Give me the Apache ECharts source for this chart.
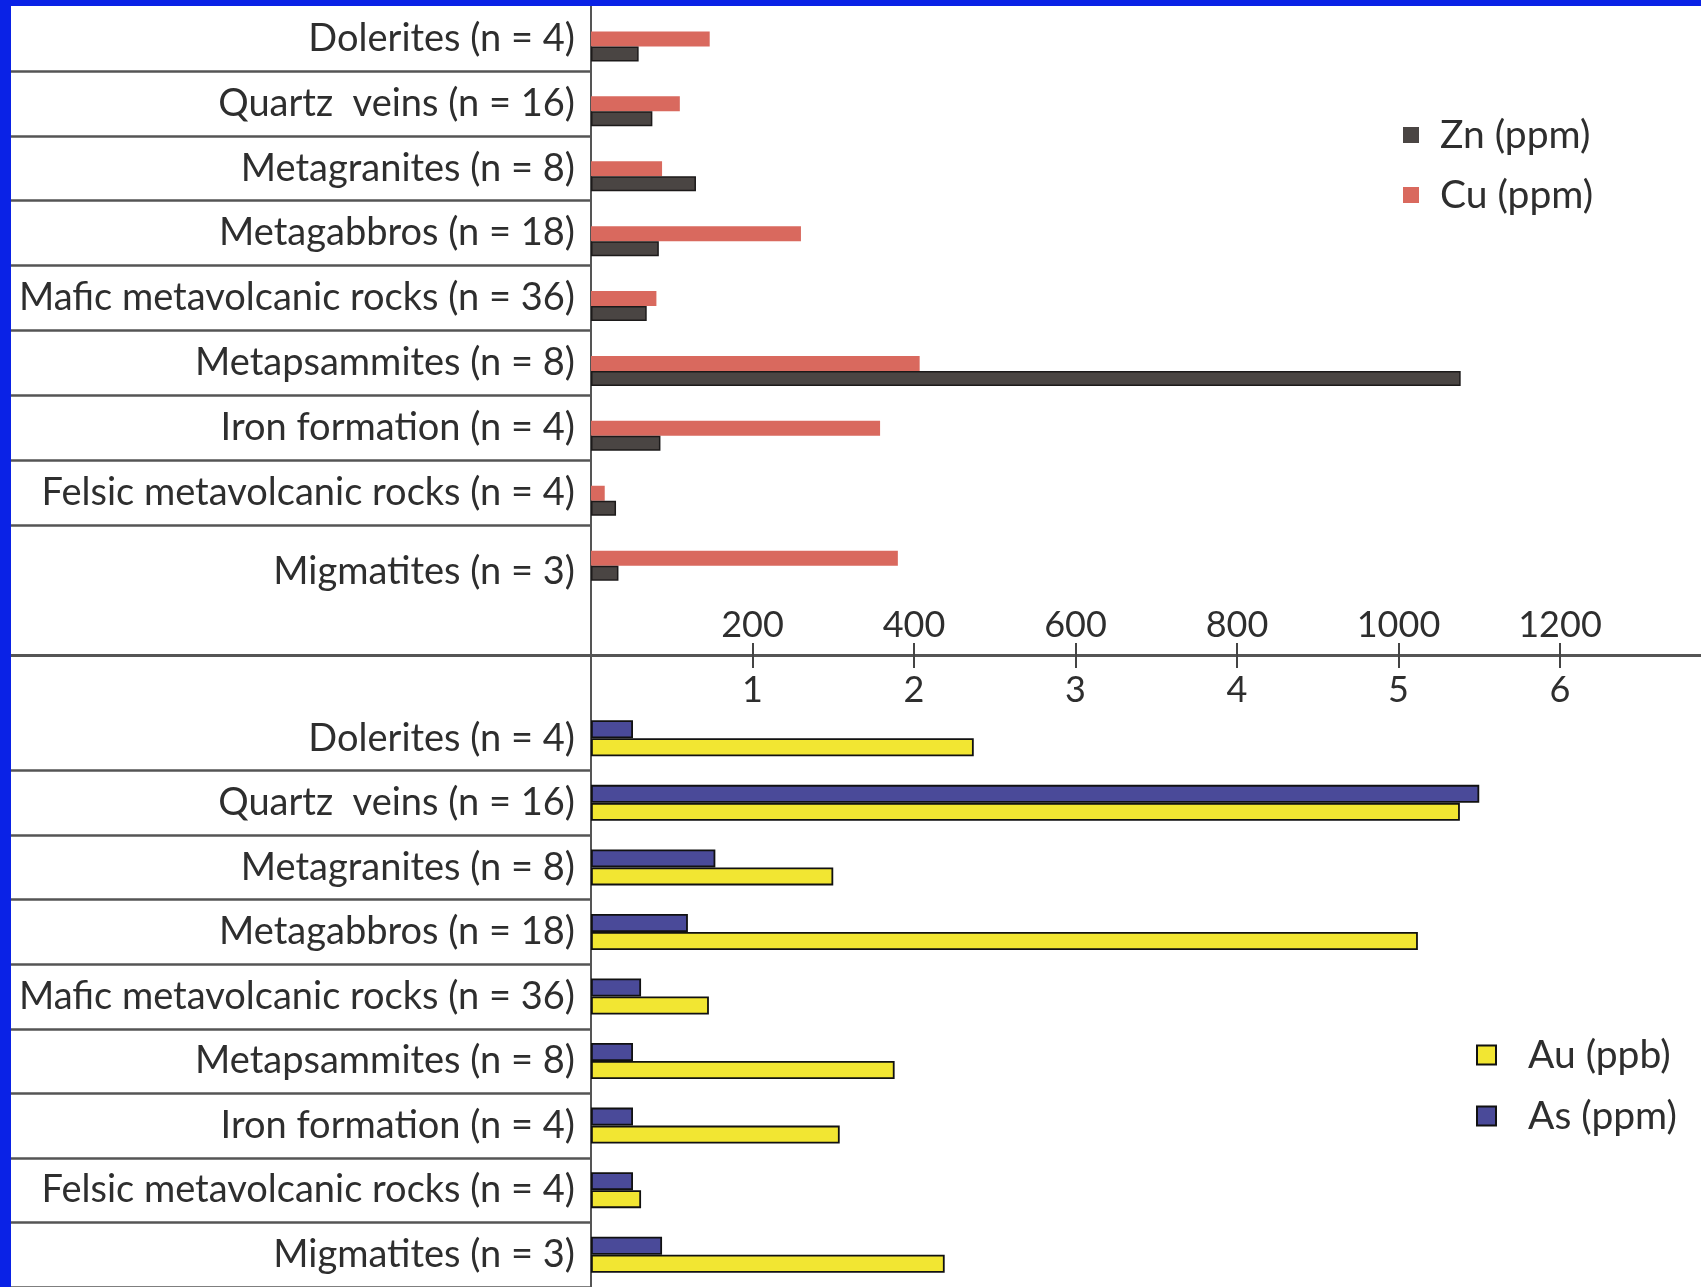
<!DOCTYPE html>
<html>
<head>
<meta charset="utf-8">
<script src="https://cdn.jsdelivr.net/npm/echarts@6/dist/echarts.min.js"></script>
<style>
  html, body { margin: 0; padding: 0; width: 1701px; height: 1287px; overflow: hidden; background: #0a22e6; }
  #chart { position: absolute; left: 11px; top: 6px; width: 1690px; height: 1281px; background: #ffffff; }
</style>
</head>
<body>
<div id="chart"></div>
<script>
// ---------- data ----------
const categories = [
  'Dolerites (n = 4)',
  'Quartz  veins (n = 16)',
  'Metagranites (n = 8)',
  'Metagabbros (n = 18)',
  'Mafic metavolcanic rocks (n = 36)',
  'Metapsammites (n = 8)',
  'Iron formation (n = 4)',
  'Felsic metavolcanic rocks (n = 4)',
  'Migmatites (n = 3)'
];
const znPpm = [59, 76, 130, 84, 69, 1077, 86, 31, 34];
const cuPpm = [147, 110, 88, 260, 81, 407, 358, 17, 380];
const asPpm = [0.26, 5.50, 0.77, 0.60, 0.31, 0.26, 0.26, 0.26, 0.44];
const auPpb = [2.37, 5.38, 1.50, 5.12, 0.73, 1.88, 1.54, 0.31, 2.19];
const topTicks = [200, 400, 600, 800, 1000, 1200];
const bottomTicks = [1, 2, 3, 4, 5, 6];

// ---------- layout ----------
const W = 1690, H = 1281;
const AXIS_X = 580;          // vertical axis position
const DIV_Y = 649;           // horizontal divider
const PX_PER_UNIT = 161.5 / 200;
const TOP_MAX = (W - AXIS_X) / PX_PER_UNIT;
const BOT_MAX = TOP_MAX / 200;
const TOP_BAND = DIV_Y / 10;
const BOT_BAND = 65.1;
const BOT_TOP = 700;

const FONT = 'Lato';
const TXT = '#2e2e2e';
const LINE = '#555555';

const chart = echarts.init(document.getElementById('chart'), null, { renderer: 'canvas' });

const lastCat = categories[categories.length - 1];

const option = {
  animation: false,
  backgroundColor: '#ffffff',
  textStyle: { fontFamily: FONT },
  grid: [
    { left: 0, top: 0, width: W, height: H },                                   // frame
    { left: AXIS_X, top: 0, width: W - AXIS_X, height: DIV_Y },                  // top labels
    { left: AXIS_X, top: 8, width: W - AXIS_X, height: TOP_BAND * 9 },           // top bars
    { left: AXIS_X, top: BOT_TOP, width: W - AXIS_X, height: BOT_BAND * 9 }      // bottom
  ],
  xAxis: [
    { gridIndex: 0, type: 'value', min: -AXIS_X, max: W - AXIS_X,
      axisLine: { show: true, onZero: true, lineStyle: { color: LINE, width: 3 } },
      axisTick: { show: false }, axisLabel: { show: false }, splitLine: { show: false } },
    { gridIndex: 1, type: 'value', min: 0, max: TOP_MAX, interval: 200, position: 'bottom',
      axisLine: { show: false },
      axisTick: { show: true, inside: true, length: 12, customValues: topTicks,
                  lineStyle: { color: '#444', width: 2 } },
      axisLabel: { show: true, inside: true, margin: 12, customValues: topTicks,
                   formatter: (v) => String(v),
                   fontSize: 36, fontFamily: FONT, color: TXT },
      splitLine: { show: false } },
    { gridIndex: 2, type: 'value', min: 0, max: TOP_MAX, show: false },
    { gridIndex: 3, type: 'value', min: 0, max: BOT_MAX, interval: 1, position: 'top',
      offset: BOT_TOP - DIV_Y,
      axisLine: { show: false },
      axisTick: { show: true, inside: true, length: 13, customValues: bottomTicks,
                  lineStyle: { color: '#444', width: 2 } },
      axisLabel: { show: true, inside: true, margin: 17, customValues: bottomTicks,
                   formatter: (v) => String(v),
                   fontSize: 36, fontFamily: FONT, color: TXT },
      splitLine: { show: false } }
  ],
  yAxis: [
    { gridIndex: 0, type: 'value', min: -(H - DIV_Y), max: DIV_Y,
      axisLine: { show: true, onZero: true, lineStyle: { color: LINE, width: 2 } },
      axisTick: { show: false }, axisLabel: { show: false }, splitLine: { show: false } },
    { gridIndex: 1, type: 'category', inverse: true, data: categories, max: 9,
      axisLine: { show: false },
      axisTick: { show: true, length: AXIS_X, interval: (i) => i >= 1 && i <= 8,
                  lineStyle: { color: LINE, width: 2.5 } },
      axisLabel: { show: true, interval: 0, margin: 16, fontSize: 38, fontFamily: FONT, color: TXT,
                   formatter: (v) => (v == null || v === 'undefined') ? '' :
                     (v === lastCat ? '{low|' + v + '}' : v),
                   rich: { low: { fontSize: 38, fontFamily: FONT, color: TXT, padding: [28, 0, 0, 0] } } },
      splitLine: { show: false } },
    { gridIndex: 2, type: 'category', inverse: true, data: categories, show: false },
    { gridIndex: 3, type: 'category', inverse: true, data: categories,
      axisLine: { show: false },
      axisTick: { show: true, length: AXIS_X, interval: (i) => i >= 1,
                  lineStyle: { color: LINE, width: 2.5 } },
      axisLabel: { show: true, interval: 0, margin: 16, fontSize: 38, fontFamily: FONT, color: TXT },
      splitLine: { show: false } }
  ],
  legend: [
    { data: ['Zn (ppm)', 'Cu (ppm)'], orient: 'vertical', left: 1387, top: 102,
      icon: 'rect', itemWidth: 16, itemHeight: 16, itemGap: 16,
      itemStyle: { borderWidth: 0 },
      textStyle: { fontSize: 39, fontFamily: FONT, color: TXT, lineHeight: 44, padding: [0, 0, 0, 16] } },
    { data: ['Au (ppb)', 'As (ppm)'], orient: 'vertical', left: 1460, top: 1022,
      icon: 'rect', itemWidth: 19, itemHeight: 19, itemGap: 17,
      textStyle: { fontSize: 39, fontFamily: FONT, color: TXT, lineHeight: 44, padding: [0, 0, 0, 27] } }
  ],
  series: [
    { name: 'Cu (ppm)', type: 'bar', xAxisIndex: 2, yAxisIndex: 2, data: cuPpm,
      barWidth: 15, barGap: '0%',
      itemStyle: { color: '#d9695e', borderWidth: 0 } },
    { name: 'Zn (ppm)', type: 'bar', xAxisIndex: 2, yAxisIndex: 2, data: znPpm,
      barWidth: 15, barGap: '0%',
      itemStyle: { color: '#4a4543', borderColor: '#1c1a1a', borderWidth: 1.5 } },
    { name: 'As (ppm)', type: 'bar', xAxisIndex: 3, yAxisIndex: 3, data: asPpm,
      barWidth: 18, barGap: '0%',
      itemStyle: { color: '#4a4a99', borderColor: '#111', borderWidth: 1.8 } },
    { name: 'Au (ppb)', type: 'bar', xAxisIndex: 3, yAxisIndex: 3, data: auPpb,
      barWidth: 18, barGap: '0%',
      itemStyle: { color: '#f2e632', borderColor: '#111', borderWidth: 1.8 } }
  ]
};
chart.setOption(option);
</script>
</body>
</html>
